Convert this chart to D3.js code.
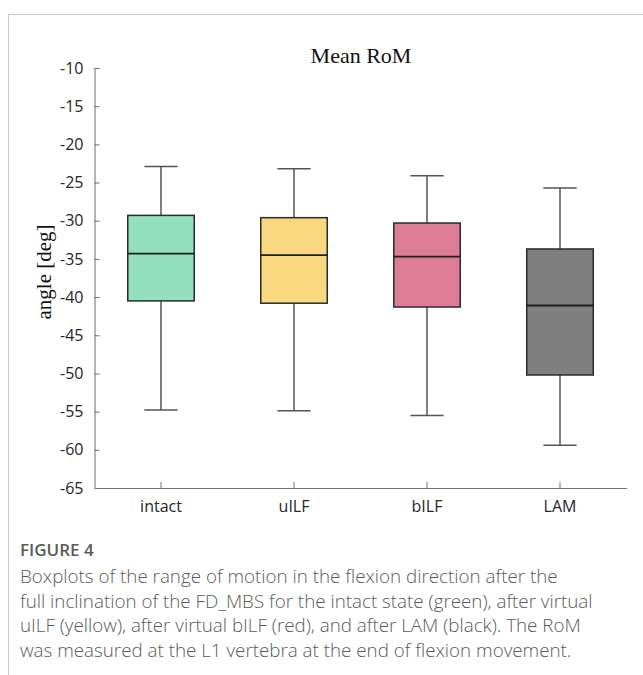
<!DOCTYPE html>
<html>
<head>
<meta charset="utf-8">
<script src="https://cdn.jsdelivr.net/npm/d3@7"></script>
<style>
  body { margin: 0; background: #fff; }
  #chart { width: 643px; height: 675px; }
</style>
</head>
<body>
<div id="chart"></div>
<script>
// categories and box statistics (deg)
const categories = ["intact", "uILF", "bILF", "LAM"];
const whiskerHigh = [-22.9, -23.2, -24.1, -25.7];
const q3 = [-29.3, -29.6, -30.3, -33.7];
const median = [-34.3, -34.5, -34.7, -41.1];
const q1 = [-40.5, -40.8, -41.3, -50.2];
const whiskerLow = [-54.8, -54.9, -55.5, -59.4];
const colors = ["#93dfbe", "#f9d87f", "#de7c97", "#7f7f7f"];
const yTicks = [-10, -15, -20, -25, -30, -35, -40, -45, -50, -55, -60, -65];
const captionLines = [
  "Boxplots of the range of motion in the flexion direction after the",
  "full inclination of the FD_MBS for the intact state (green), after virtual",
  "uILF (yellow), after virtual bILF (red), and after LAM (black). The RoM",
  "was measured at the L1 vertebra at the end of flexion movement."
];

const data = categories.map((c, i) => ({
  cat: c, hi: whiskerHigh[i], q3: q3[i], med: median[i], q1: q1[i], lo: whiskerLow[i], color: colors[i]
}));

const W = 643, H = 675;
const margin = { top: 68, left: 94.5, right: 16.5, bottom: 187 };

const svg = d3.select("#chart").append("svg")
  .attr("width", W).attr("height", H);

// card frame
svg.append("line").attr("x1", 8).attr("x2", W).attr("y1", 14.5).attr("y2", 14.5)
  .attr("stroke", "#c8c8c8").attr("stroke-width", 1);
svg.append("line").attr("x1", 8.5).attr("x2", 8.5).attr("y1", 14).attr("y2", H)
  .attr("stroke", "#c8c8c8").attr("stroke-width", 1);

const x = d3.scaleBand().domain(categories)
  .range([margin.left, W - margin.right]).padding(0);
const y = d3.scaleLinear().domain([-65, -10])
  .range([H - margin.bottom, margin.top]);

const bw = x.bandwidth() * 0.5;
const cw = x.bandwidth() * 0.25;

// axes
const yAxis = svg.append("g")
  .attr("transform", `translate(${margin.left},0)`)
  .call(d3.axisLeft(y).tickValues(yTicks).tickSizeInner(-5).tickSizeOuter(-5).tickPadding(11)
    .tickFormat(d => String(d)));
const xAxis = svg.append("g")
  .attr("transform", `translate(0,${H - margin.bottom})`)
  .call(d3.axisBottom(x).tickSizeInner(-6).tickSizeOuter(0).tickPadding(13));

[yAxis, xAxis].forEach(g => {
  g.select(".domain").attr("stroke", "#6e6e6e");
  g.selectAll(".tick line").attr("stroke", "#6e6e6e");
  g.selectAll("text").attr("fill", "#262626")
    .style("font-family", "'Open Sans', sans-serif").style("font-size", "16px");
});

// boxes
const box = svg.append("g").selectAll("g").data(data).enter().append("g")
  .attr("transform", d => `translate(${x(d.cat) + x.bandwidth() / 2},0)`);

box.append("line").attr("x1", 0).attr("x2", 0)
  .attr("y1", d => y(d.hi)).attr("y2", d => y(d.lo))
  .attr("stroke", "#555").attr("stroke-width", 1.5);
box.append("line").attr("x1", -cw / 2).attr("x2", cw / 2)
  .attr("y1", d => y(d.hi)).attr("y2", d => y(d.hi))
  .attr("stroke", "#555").attr("stroke-width", 1.5);
box.append("line").attr("x1", -cw / 2).attr("x2", cw / 2)
  .attr("y1", d => y(d.lo)).attr("y2", d => y(d.lo))
  .attr("stroke", "#555").attr("stroke-width", 1.5);
box.append("rect")
  .attr("x", -bw / 2).attr("width", bw)
  .attr("y", d => y(d.q3)).attr("height", d => y(d.q1) - y(d.q3))
  .attr("fill", d => d.color).attr("stroke", "#2b2b2b").attr("stroke-width", 1.5);
box.append("line").attr("x1", -bw / 2).attr("x2", bw / 2)
  .attr("y1", d => y(d.med)).attr("y2", d => y(d.med))
  .attr("stroke", "#1e1e1e").attr("stroke-width", 1.8);

// title and y label
svg.append("text").attr("x", 361).attr("y", 63).attr("text-anchor", "middle")
  .style("font-family", "'Liberation Serif', serif").style("font-size", "22px")
  .attr("fill", "#111").text("Mean RoM");
svg.append("text")
  .attr("transform", `translate(51,272) rotate(-90)`)
  .attr("text-anchor", "middle")
  .style("font-family", "'Liberation Serif', serif").style("font-size", "21px")
  .attr("fill", "#111").text("angle [deg]");

// caption
svg.append("text").attr("x", 20).attr("y", 556)
  .style("font-family", "'Open Sans', sans-serif").style("font-size", "17px")
  .style("font-weight", 600).attr("fill", "#5a5a5a").text("FIGURE 4");
svg.append("g").selectAll("text").data(captionLines).enter().append("text")
  .attr("x", 20).attr("y", (d, i) => 583 + i * 24.7)
  .style("font-family", "'Open Sans', sans-serif").style("font-size", "18.8px")
  .style("font-weight", 300).attr("fill", "#5a5a5a").text(d => d);
</script>
</body>
</html>
